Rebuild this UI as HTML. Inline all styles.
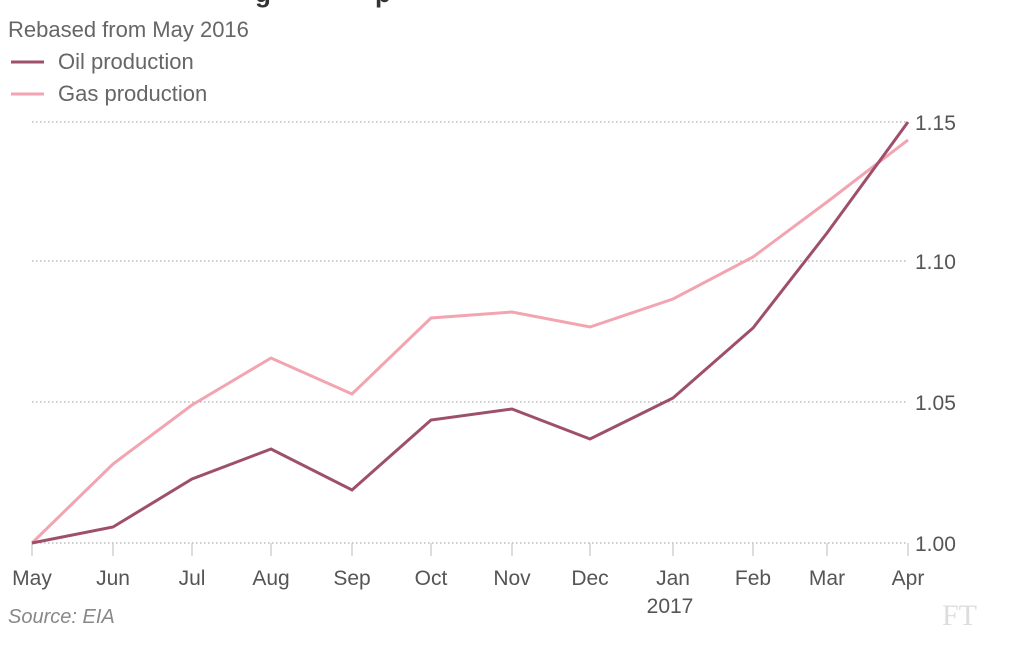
<!DOCTYPE html>
<html><head><meta charset="utf-8"><style>
html,body{margin:0;padding:0;background:#fff;}
svg{display:block;font-family:"Liberation Sans",sans-serif;}
</style></head><body>
<svg width="1010" height="650" viewBox="0 0 1010 650">
<text x="255" y="2" font-size="26" fill="#333" font-weight="bold">g</text>
<text x="375" y="2" font-size="26" fill="#333" font-weight="bold">p</text>
<text x="8" y="37" font-size="22" fill="#666">Rebased from May 2016</text>
<line x1="11" y1="62" x2="44" y2="62" stroke="#9e4f6c" stroke-width="3"/>
<text x="58" y="69" font-size="22" fill="#666">Oil production</text>
<line x1="11" y1="94" x2="44" y2="94" stroke="#f2a5b1" stroke-width="3"/>
<text x="58" y="101" font-size="22" fill="#666">Gas production</text>
<g stroke="#999" stroke-width="1" stroke-dasharray="1.5,2.5">
<line x1="32" y1="122" x2="908" y2="122"/>
<line x1="32" y1="261" x2="908" y2="261"/>
<line x1="32" y1="402" x2="908" y2="402"/>
<line x1="32" y1="543" x2="908" y2="543"/>
</g>
<g font-size="21" fill="#555">
<text x="915" y="130">1.15</text>
<text x="915" y="269">1.10</text>
<text x="915" y="410">1.05</text>
<text x="915" y="551">1.00</text>
</g>
<g stroke="#bbb" stroke-width="1">
<line x1="32" y1="543" x2="32" y2="556"/><line x1="113" y1="543" x2="113" y2="556"/>
<line x1="192" y1="543" x2="192" y2="556"/><line x1="271" y1="543" x2="271" y2="556"/>
<line x1="352" y1="543" x2="352" y2="556"/><line x1="431" y1="543" x2="431" y2="556"/>
<line x1="512" y1="543" x2="512" y2="556"/><line x1="590" y1="543" x2="590" y2="556"/>
<line x1="673" y1="543" x2="673" y2="556"/><line x1="753" y1="543" x2="753" y2="556"/>
<line x1="827" y1="543" x2="827" y2="556"/><line x1="908" y1="543" x2="908" y2="556"/>
</g>
<g font-size="21" fill="#555" text-anchor="middle">
<text x="32" y="585">May</text><text x="113" y="585">Jun</text><text x="192" y="585">Jul</text>
<text x="271" y="585">Aug</text><text x="352" y="585">Sep</text><text x="431" y="585">Oct</text>
<text x="512" y="585">Nov</text><text x="590" y="585">Dec</text><text x="673" y="585">Jan</text>
<text x="753" y="585">Feb</text><text x="827" y="585">Mar</text><text x="908" y="585">Apr</text>
<text x="670" y="613">2017</text>
</g>
<text x="8" y="623" font-size="20" fill="#888" font-style="italic">Source: EIA</text>
<text x="942" y="625" font-size="30" fill="#ddd" font-family="Liberation Serif,serif">FT</text>
<polyline fill="none" stroke="#f2a5b1" stroke-width="3" points="32,543 113,464 192,405 271,358 352,394 431,318 512,312 590,327 673,299 753,257 827,202 908,140"/>
<polyline fill="none" stroke="#9e4f6c" stroke-width="3" points="32,543 113,527 192,479 271,449 352,490 431,420 512,409 590,439 673,398 753,328 827,233 908,122"/>
</svg>
</body></html>
